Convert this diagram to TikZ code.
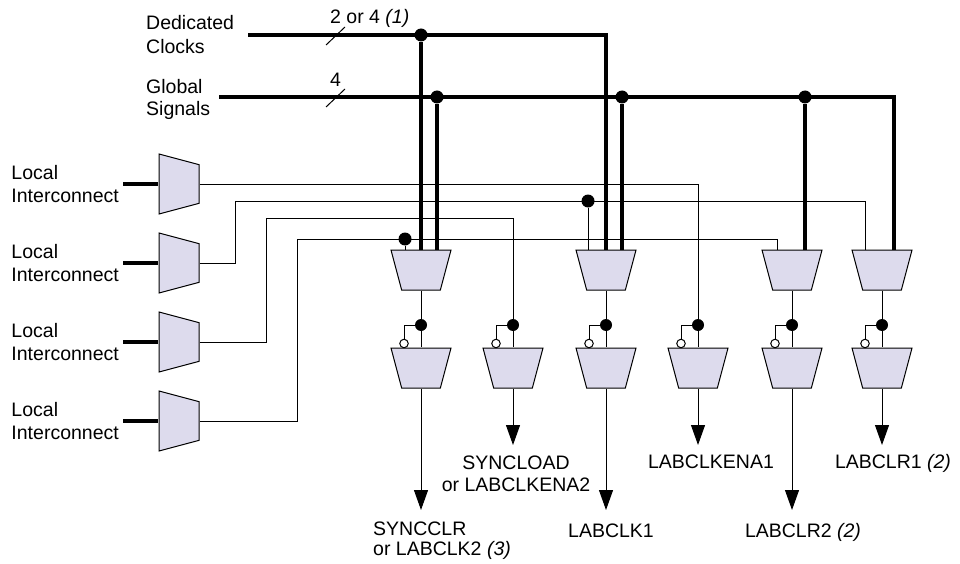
\documentclass[tikz,border=0pt]{standalone}
\usepackage{fontspec}
\setmainfont{Liberation Sans}
\usepackage{tikz}
\usetikzlibrary{shapes.geometric,arrows.meta,calc}

\definecolor{muxfill}{RGB}{221,219,237}
\newcommand{\lblfont}{\fontsize{19.5}{23}\selectfont}

\tikzset{
  mux/.style={trapezium, trapezium stretches=true, trapezium left angle=74.6, trapezium right angle=74.6,
    minimum width=60pt, minimum height=40pt, inner sep=1pt, draw, line width=1pt, fill=muxfill},
  selmux/.style={mux, shape border rotate=180},
  inmux/.style={mux, shape border rotate=270},
  sig/.style={line width=1pt},
  bus/.style={line width=4pt},
  dot/.style={circle, fill, inner sep=0pt, minimum size=13pt},
  sdot/.style={circle, fill, inner sep=0pt, minimum size=12pt},
  bubble/.style={circle, draw, fill=white, line width=1pt, inner sep=0pt, minimum size=8.5pt},
  lbl/.style={font=\lblfont, inner sep=0pt},
  outarr/.style={line width=1pt, -{Triangle[length=20pt,width=14pt]}}
}

\begin{document}
\begin{tikzpicture}[x=1pt,y=-1pt]
\useasboundingbox (0,0) rectangle (960,564);

\node[lbl, align=left, anchor=west] (dcl) at (146,35) {Dedicated\\[1pt]Clocks};
\node[lbl, align=left, anchor=west] (gsl) at (146,99) {Global\\[-1pt]Signals};
\coordinate (dc) at (248,35); \coordinate (gs) at (219,97);
\node[lbl, anchor=base west] (w1) at (330,24) {2 or 4 \textit{(1)}};
\node[lbl, anchor=base west] (w2) at (330,87) {4};

\node[inmux] (lm1) at (179,184) {}; \node[lbl, align=left, anchor=east, inner xsep=4pt] (li1) at (123,184) {Local\\Interconnect};
\node[inmux] (lm2) at (179,263) {}; \node[lbl, align=left, anchor=east, inner xsep=4pt] (li2) at (123,263) {Local\\Interconnect};
\node[inmux] (lm3) at (179,342) {}; \node[lbl, align=left, anchor=east, inner xsep=4pt] (li3) at (123,342) {Local\\Interconnect};
\node[inmux] (lm4) at (179,421) {}; \node[lbl, align=left, anchor=east, inner xsep=4pt] (li4) at (123,421) {Local\\Interconnect};

\node[selmux] (mA) at (421,270) {};
\node[selmux] (mB) at (606,270) {};
\node[selmux] (mC) at (792,270) {};
\node[selmux] (mD) at (882,270) {};

\node[dot] (j1) at (421,35) {}; \node[dot] (j2) at (437,97) {};
\node[dot] (j3) at (622,97) {}; \node[dot] (j4) at (805,97) {};
\node[dot] (j5) at (405,239) {}; \node[dot] (j6) at (588,201) {};

\draw[bus] (dc) -| ($(mB)+(0,-20)$);
\draw[bus] (gs) -| ($(mD)+(12,-20)$);
\draw[sig] (326,45) -- (345,27); \draw[sig] (326,107) -- (345,89);
\draw[bus] (j1) -- ($(mA)+(0,-20)$); \draw[bus] (j2) -- ($(mA)+(16,-20)$);
\draw[bus] (j3) -- ($(mB)+(16,-20)$); \draw[bus] (j4) -- ($(mC)+(13,-20)$);

\draw[bus] (li1) -- (lm1); \draw[bus] (li2) -- (lm2);
\draw[bus] (li3) -- (lm3); \draw[bus] (li4) -- (lm4);

\node[sdot] (k1) at (421,325) {}; \node[selmux] (n1) at (421,368) {}; \node[bubble] (b1) at (404,343.5) {};
\node[sdot] (k2) at (513,325) {}; \node[selmux] (n2) at (513,368) {}; \node[bubble] (b2) at (496,343.5) {};
\node[sdot] (k3) at (606,325) {}; \node[selmux] (n3) at (606,368) {}; \node[bubble] (b3) at (589,343.5) {};
\node[sdot] (k4) at (698,325) {}; \node[selmux] (n4) at (698,368) {}; \node[bubble] (b4) at (681,343.5) {};
\node[sdot] (k5) at (792,325) {}; \node[selmux] (n5) at (792,368) {}; \node[bubble] (b5) at (775,343.5) {};
\node[sdot] (k6) at (882,325) {}; \node[selmux] (n6) at (882,368) {}; \node[bubble] (b6) at (865,343.5) {};

\draw[sig] (lm1) -| (k4);
\draw[sig] (lm2) -| (235,201) -| ($(mD)+(-17,-20)$); \draw[sig] (j6) -- ($(mB)+(-18,-20)$);
\draw[sig] (lm3) -| (266,218) -| (k2);
\draw[sig] (lm4) -| (297,239) -| ($(mC)+(-15,-20)$); \draw[sig] (j5) -- ($(mA)+(-16,-20)$);

\draw[sig] (mA) -- (k1); \draw[sig] (mB) -- (k3);
\draw[sig] (mC) -- (k5); \draw[sig] (mD) -- (k6);

\draw[sig] (k1) -- (n1); \draw[sig] (k1) -| (b1);
\draw[sig] (k2) -- (n2); \draw[sig] (k2) -| (b2);
\draw[sig] (k3) -- (n3); \draw[sig] (k3) -| (b3);
\draw[sig] (k4) -- (n4); \draw[sig] (k4) -| (b4);
\draw[sig] (k5) -- (n5); \draw[sig] (k5) -| (b5);
\draw[sig] (k6) -- (n6); \draw[sig] (k6) -| (b6);

\coordinate (t1) at (421,510); \coordinate (t2) at (513,445); \coordinate (t3) at (606,510);
\coordinate (t4) at (698,445); \coordinate (t5) at (792,510); \coordinate (t6) at (882,445);
\draw[outarr] (n1) -- (t1); \draw[outarr] (n2) -- (t2); \draw[outarr] (n3) -- (t3);
\draw[outarr] (n4) -- (t4); \draw[outarr] (n5) -- (t5); \draw[outarr] (n6) -- (t6);

\node[lbl, align=left, anchor=west] (o1) at (373,541) {SYNCCLR\\[-3pt]or LABCLK2 \textit{(3)}};
\node[lbl, align=center] (o2) at (516,474) {SYNCLOAD\\[-1pt]or LABCLKENA2};
\node[lbl, anchor=base] (o3) at (611,537) {LABCLK1};
\node[lbl, anchor=base] (o4) at (711,468) {LABCLKENA1};
\node[lbl, anchor=base] (o5) at (803,537) {LABCLR2 \textit{(2)}};
\node[lbl, anchor=base] (o6) at (893,468) {LABCLR1 \textit{(2)}};

\end{tikzpicture}
\end{document}
